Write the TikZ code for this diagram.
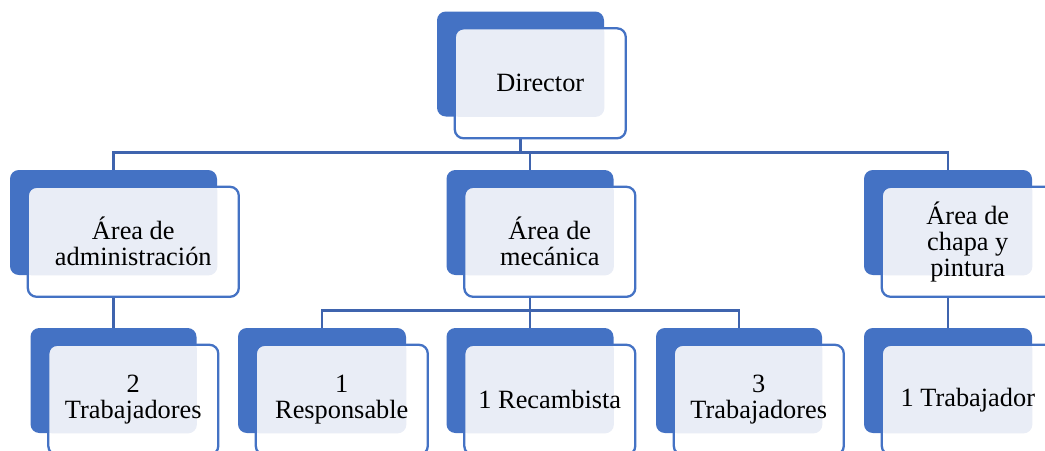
\documentclass[tikz,border=0pt]{standalone}
\usepackage{fontspec}
\setmainfont{Liberation Serif}
\usepackage{xcolor}
\usetikzlibrary{positioning,backgrounds}
\definecolor{accent}{HTML}{4472C4}
\definecolor{pale}{HTML}{E9EDF6}
\definecolor{linkblue}{HTML}{3F64AE}
\newcommand{\pxu}{0.02cm}
\tikzset{
  backbox/.style={fill=accent, rounded corners=5pt, inner sep=0pt,
    minimum width=167*\pxu, minimum height=105*\pxu},
  frontbox/.style={draw=accent, line width=1.3pt, fill=white, rounded corners=5pt,
    inner sep=0pt, align=center, anchor=north west, minimum height=110*\pxu,
    path picture={\fill[pale,rounded corners=5pt]
      ([shift={(-5,-5)}]path picture bounding box.north west) rectangle (#1.south east);}},
  link/.style={draw=linkblue, line width=1.6pt}
}
% back block (name) + framed text box
\newcommand{\orgunit}[4][167]{%
  \node[backbox, minimum width=#1*\pxu] (#2) at (#3) {};
  \node[frontbox=#2, minimum width=(#1+4)*\pxu] (#2-f)
    at ([shift={(17,16)}]#2.north west) {#4};
}

\begin{document}
\begin{tikzpicture}[x=0.02cm, y=-0.02cm, font=\fontsize{15}{14.8}\selectfont]
  \useasboundingbox (0,0) rectangle (1045,450);
  \clip (0,0) rectangle (1045,450);
  % top
  \orgunit{dir}{520.5,64}{Director}
  % areas
  \orgunit[207]{adm}{113.5,222.5}{Área de\\administración}
  \orgunit{mec}{530,222.5}{Área de\\mecánica}
  \orgunit[168]{cha}{948,222.5}{Área de\\chapa y\\pintura}
  % staff
  \orgunit[166]{adm2}{113.5,380.5}{2\\Trabajadores}
  \orgunit[168]{resp}{322,380.5}{1\\Responsable}
  \orgunit{recam}{530,380.5}{1 Recambista}
  \orgunit[166]{mec3}{739,380.5}{3\\Trabajadores}
  \orgunit[168]{cha1}{948,380.5}{1 Trabajador}
  % links
  \begin{scope}[on background layer]
    \draw[link] (dir.south) -- ++(0,36) coordinate (bar1);
    \foreach \kid in {adm,mec,cha}
      \draw[link] (bar1) -| (\kid.north);
    \draw[link] (mec.south) -- ++(0,35) coordinate (bar2);
    \foreach \kid in {resp,recam,mec3}
      \draw[link] (bar2) -| (\kid.north);
    \draw[link] (adm.south) -- (adm2.north);
    \draw[link] (cha.south) -- (cha1.north);
  \end{scope}
\end{tikzpicture}
\end{document}
